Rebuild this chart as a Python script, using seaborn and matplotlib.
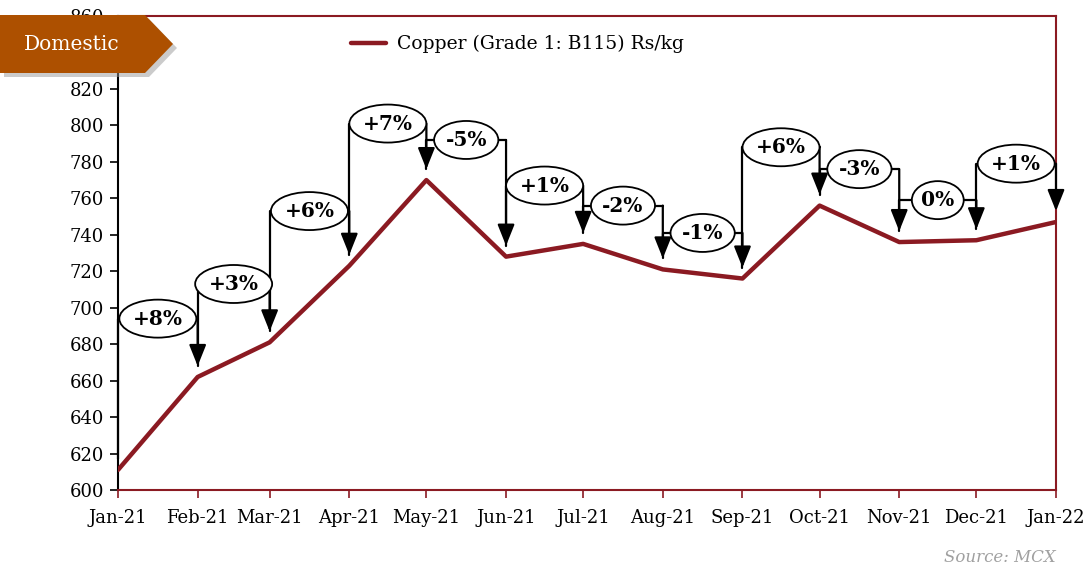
import pandas as pd
import numpy as np
import matplotlib
matplotlib.use("Agg")
import matplotlib.pyplot as plt
import matplotlib.dates as mdates
import matplotlib.transforms as mtransforms
from matplotlib.patches import Polygon, Ellipse
import seaborn as sns

# Copper price (Grade 1: B115), Rs/kg, monthly
months = ["2021-01", "2021-02", "2021-03", "2021-04", "2021-05", "2021-06", "2021-07",
          "2021-08", "2021-09", "2021-10", "2021-11", "2021-12", "2022-01"]
prices = [611, 662, 681, 723, 770, 728, 735, 721, 716, 756, 736, 737, 747]
# month-on-month change labels and the height of each bracket (Rs/kg)
changes = ["+8%", "+3%", "+6%", "+7%", "-5%", "+1%", "-2%", "-1%", "+6%", "-3%", "0%", "+1%"]
bracket_y = [694, 713, 753, 801, 792, 767, 756, 741, 788, 776, 759, 779]

LINE_RED = "#8B1A22"
FONT = ["DejaVu Serif"]

df = pd.DataFrame({"month": pd.to_datetime(months), "price": prices})

sns.set_style("ticks")
plt.rcParams["font.family"] = FONT
plt.rcParams["text.color"] = "black"
plt.rcParams["xtick.labelcolor"] = "black"
plt.rcParams["ytick.labelcolor"] = "black"

fig = plt.figure(figsize=(10.89, 5.71), dpi=100)
ax = fig.add_axes([118 / 1089, 1 - 490 / 571, (1056 - 118) / 1089, (490 - 16) / 571])

sns.lineplot(data=df, x="month", y="price", color=LINE_RED, linewidth=3.2,
             ax=ax, label="Copper (Grade 1: B115) Rs/kg", zorder=3)

ax.set_ylim(600, 860)
ax.set_yticks(np.arange(600, 861, 20))
ax.set_xlim(df["month"].iloc[0], df["month"].iloc[-1])
ax.set_xticks(df["month"])
ax.xaxis.set_major_formatter(mdates.DateFormatter("%b-%y"))
ax.set_xlabel("")
ax.set_ylabel("")
ax.tick_params(axis="y", labelsize=13, length=6, width=1.2, color="black",
               labelcolor="black", pad=4)
ax.tick_params(axis="x", labelsize=13, length=6, width=1.2, color=LINE_RED,
               labelcolor="black", pad=8)

for side in ["top", "right", "bottom"]:
    ax.spines[side].set_color(LINE_RED)
    ax.spines[side].set_linewidth(1.5)
ax.spines["left"].set_color("black")
ax.spines["left"].set_linewidth(1.5)

# brackets with percentage bubbles
xs = mdates.date2num(df["month"])
gap = 6
labels = []
for i, (lab, h) in enumerate(zip(changes, bracket_y)):
    x0, x1 = xs[i], xs[i + 1]
    ax.plot([x0, x0, x1], [prices[i] + gap, h, h], color="black", lw=1.6,
            zorder=4, clip_on=False)
    ax.annotate("", xy=(x1, prices[i + 1] + gap), xytext=(x1, h),
                arrowprops=dict(arrowstyle="-|>,head_length=0.65,head_width=0.26",
                                color="black", lw=1.6, shrinkA=0, shrinkB=0,
                                mutation_scale=20), zorder=4)
    t = ax.text((x0 + x1) / 2, h, lab, ha="center", va="center", fontsize=14.5,
                fontweight="bold", color="black", zorder=6)
    labels.append((t, (x0 + x1) / 2, h))

fig.canvas.draw()
renderer = fig.canvas.get_renderer()
for t, xc, yc in labels:
    tw = t.get_window_extent(renderer).width
    w_in = (tw * 1.5 + 2) / fig.dpi
    h_in = 38 / fig.dpi
    trans = fig.dpi_scale_trans + mtransforms.ScaledTranslation(xc, yc, ax.transData)
    ax.add_patch(Ellipse((0, 0), w_in, h_in, transform=trans, fc="white",
                         ec="black", lw=1.3, zorder=5, clip_on=False))

leg = ax.legend(loc="upper left", bbox_to_anchor=(0.23, 0.995), frameon=False,
                fontsize=13.5, handlelength=1.9, handletextpad=0.6)

# "Domestic" tag
W, H = 1089, 571
def fig_pt(px, py):
    return (px / W, 1 - py / H)

tag = [(0, 15), (145, 15), (173, 44), (145, 73), (0, 73)]
shadow = Polygon([fig_pt(x + 4, y + 4) for x, y in tag], closed=True,
                 transform=fig.transFigure, fc="#999999", ec="none", alpha=0.5, zorder=9)
body = Polygon([fig_pt(x, y) for x, y in tag], closed=True,
               transform=fig.transFigure, fc="#AD5000", ec="none", zorder=10)
fig.patches.extend([shadow, body])
fig.text(*fig_pt(72, 45), "Domestic", color="white", fontsize=14.5,
         ha="center", va="center", zorder=11)

fig.text(*fig_pt(1056, 557), "Source: MCX", color="#A0A0A0", fontsize=12,
         style="italic", ha="right", va="center")

fig.savefig("out.png", dpi=100)
